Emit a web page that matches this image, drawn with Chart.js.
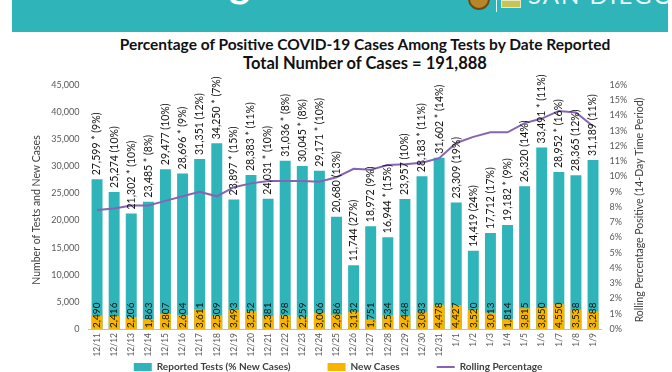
<!DOCTYPE html>
<html>
<head>
<meta charset="utf-8">
<script src="https://cdn.jsdelivr.net/npm/chart.js@4"></script>
<style>
  body { margin: 0; background: #fff; }
  #wrap { position: relative; width: 672px; height: 372px; overflow: hidden; font-family: Lato, "Open Sans", sans-serif; }
  #banner { position: absolute; left: 12px; top: 0; width: 656px; height: 32px; background: #2fb4ba; overflow: hidden; }
  #banner .big { position: absolute; right: 418px; top: -42px; line-height: 48px; color: #fff; font-size: 40px; font-weight: bold; white-space: nowrap; }
  #banner .seal { position: absolute; left: 456px; top: -12px; width: 18px; height: 18px; border-radius: 50%; background: #b8862a; border: 2px solid #6b4a14; }
  #banner .bar { position: absolute; left: 484px; top: 0; width: 1px; height: 12px; background: #e8f6f6; }
  #banner .flag { position: absolute; left: 489px; top: 0; width: 18px; height: 6px; background: #c7c45a; border: 1px solid #e9e9c0; }
  #banner .sd { position: absolute; left: 516px; top: -20px; line-height: 30px; color: #e6f7f7; font-size: 24px; letter-spacing: 2px; white-space: nowrap; }
  .ttl { position: absolute; left: 0; width: 730px; text-align: center; font-weight: bold; color: #111; white-space: nowrap; line-height: 1.2; }
  #chartBox { position: absolute; left: 0; top: 0; width: 672px; height: 372px; }
</style>
</head>
<body>
<div id="wrap">
  <div id="banner">
    <span class="big">COVID-19 Testing</span>
    <div class="seal"></div>
    <div class="bar"></div>
    <div class="flag"></div>
    <span class="sd">SAN DIEGO</span>
  </div>
  <div class="ttl" style="top:35px; font-size:15.5px">Percentage of Positive COVID-19 Cases Among Tests by Date Reported</div>
  <div class="ttl" style="top:54px; font-size:16.5px">Total Number of Cases = 191,888</div>
  <div id="chartBox"><canvas id="covidChart" width="672" height="372"></canvas></div>
</div>
<script>
var dates = ['12/11', '12/12', '12/13', '12/14', '12/15', '12/16', '12/17', '12/18', '12/19', '12/20',
  '12/21', '12/22', '12/23', '12/24', '12/25', '12/26', '12/27', '12/28', '12/29', '12/30', '12/31',
  '1/1', '1/2', '1/3', '1/4', '1/5', '1/6', '1/7', '1/8', '1/9'];
var reportedTests = [27599, 25274, 21302, 23485, 29477, 28696, 31351, 34250, 23897, 28383,
  24031, 31036, 30045, 29171, 20680, 11744, 18972, 16944, 23957, 28183, 31602,
  23309, 14419, 17712, 19182, 26320, 33491, 28952, 28365, 31189];
var newCasePct = [9, 10, 10, 8, 10, 9, 12, 7, 15, 11,
  10, 8, 8, 10, 13, 27, 9, 15, 10, 11, 14,
  19, 24, 17, 9, 14, 11, 16, 12, 11];
var starred = [1, 0, 1, 1, 0, 1, 0, 1, 1, 1,
  1, 1, 1, 1, 0, 0, 0, 1, 0, 1, 1,
  0, 0, 0, 1, 0, 1, 1, 0, 0];
var newCases = [2490, 2416, 2206, 1863, 2807, 2604, 3611, 2509, 3493, 3252,
  2381, 2598, 2259, 3006, 2686, 3132, 1751, 2534, 2448, 3083, 4478,
  4427, 3520, 3013, 1814, 3815, 3850, 4550, 3538, 3288];
var rollingPct = [7.8, 7.9, 8.1, 8.1, 8.4, 8.7, 9.0, 8.7, 9.3, 9.55,
  9.7, 9.7, 9.7, 9.65, 9.95, 10.5, 10.45, 10.75, 10.8, 10.9, 11.2,
  12.2, 12.6, 12.9, 12.9, 13.5, 13.8, 14.3, 14.2, 13.3];

var TEAL = '#2fb4ba', GOLD = '#f7b500', PURPLE = '#8565b3';
var FONT = 'Lato, "Open Sans", sans-serif';
var LEGEND_FONT = 'bold 10px ' + FONT;

function fmt(n) { return n.toLocaleString('en-US'); }

// excel-like legend gaps: pad label text with spaces
var mctx = document.createElement('canvas').getContext('2d');
mctx.font = LEGEND_FONT;
var spaceW = mctx.measureText(' ').width || 2.5;
var gapPad = new Array(Math.max(1, Math.round(33 / spaceW)) + 1).join(' ');

function drawRotated(ctx, txt, x, y) {
  ctx.save();
  ctx.translate(x, y);
  ctx.rotate(-Math.PI / 2);
  ctx.fillText(txt, 0, 0);
  ctx.restore();
}

var barLabels = {
  id: 'barLabels',
  afterDatasetsDraw: function(chart) {
    var ctx = chart.ctx;
    var area = chart.chartArea;
    ctx.save();
    ctx.fillStyle = '#111';
    ctx.font = '10.5px ' + FONT;
    ctx.textAlign = 'left';
    ctx.textBaseline = 'middle';
    chart.getDatasetMeta(0).data.forEach(function(bar, i) {
      var txt = fmt(reportedTests[i]) + (starred[i] ? ' * ' : ' ') + '(' + newCasePct[i] + '%)';
      drawRotated(ctx, txt, bar.x, bar.y - 4);
    });
    ctx.font = '10px ' + FONT;
    chart.getDatasetMeta(1).data.forEach(function(bar, i) {
      drawRotated(ctx, fmt(newCases[i]), bar.x, bar.base - 1);
    });
    // axis titles
    ctx.font = '10.5px ' + FONT;
    ctx.fillStyle = '#404040';
    ctx.textAlign = 'center';
    var midY = (area.top + area.bottom) / 2 + 3;
    drawRotated(ctx, 'Number of Tests and New Cases', 37, midY);
    drawRotated(ctx, 'Rolling Percentage Positive (14-Day Time Period)', 640, midY);
    ctx.restore();
  }
};

var ctx = document.getElementById('covidChart').getContext('2d');
var covidChart = new Chart(ctx, {
  type: 'bar',
  data: {
    labels: dates,
    datasets: [{
      label: 'Reported Tests (% New Cases)',
      data: reportedTests,
      backgroundColor: TEAL,
      grouped: false,
      order: 3,
      barPercentage: 0.64,
      categoryPercentage: 1,
      pointStyle: 'rect'
    }, {
      label: 'New Cases',
      data: newCases,
      backgroundColor: GOLD,
      grouped: false,
      order: 2,
      barPercentage: 0.64,
      categoryPercentage: 1,
      pointStyle: 'rect'
    }, {
      type: 'line',
      label: 'Rolling Percentage',
      data: rollingPct,
      yAxisID: 'y1',
      borderColor: PURPLE,
      backgroundColor: PURPLE,
      borderWidth: 2,
      pointRadius: 0,
      tension: 0,
      order: 1,
      pointStyle: 'line'
    }]
  },
  options: {
    responsive: false,
    animation: false,
    devicePixelRatio: 1,
    layout: { padding: { top: 85, left: 4, right: 0, bottom: -10 } },
    scales: {
      x: {
        grid: { display: false, drawTicks: false },
        border: { display: true, color: '#bfbfbf' },
        ticks: { minRotation: 90, maxRotation: 90, autoSkip: false, color: '#595959', font: { family: FONT, size: 8.5 }, padding: 4 },
        afterFit: function(scale) { scale.height = 30; }
      },
      y: {
        min: 0,
        max: 45000,
        grid: { display: false, drawTicks: false },
        border: { display: false },
        ticks: { stepSize: 5000, color: '#595959', font: { family: FONT, size: 9 }, padding: 9,
          callback: function(v) { return fmt(v); } },
        afterFit: function(scale) { scale.width = 84.5; }
      },
      y1: {
        position: 'right',
        min: 0,
        max: 16,
        grid: { display: false, drawTicks: false },
        border: { display: false },
        ticks: { stepSize: 1, color: '#595959', font: { family: FONT, size: 9 }, padding: 8,
          callback: function(v) { return v + '%'; } },
        afterFit: function(scale) { scale.width = 70.4; }
      }
    },
    plugins: {
      legend: {
        position: 'bottom',
        labels: {
          usePointStyle: true,
          pointStyleWidth: 18,
          boxHeight: 8,
          boxWidth: 18,
          padding: 3,
          color: '#404040',
          font: { family: FONT, size: 10, weight: 'bold' },
          generateLabels: function(chart) {
            var items = Chart.defaults.plugins.legend.labels.generateLabels(chart);
            items.sort(function(a, b) { return a.datasetIndex - b.datasetIndex; });
            items.forEach(function(it, k) {
              if (k < items.length - 1) it.text = it.text + gapPad;
            });
            return items;
          }
        }
      },
      tooltip: { enabled: false }
    }
  },
  plugins: [barLabels]
});
</script>
</body>
</html>
